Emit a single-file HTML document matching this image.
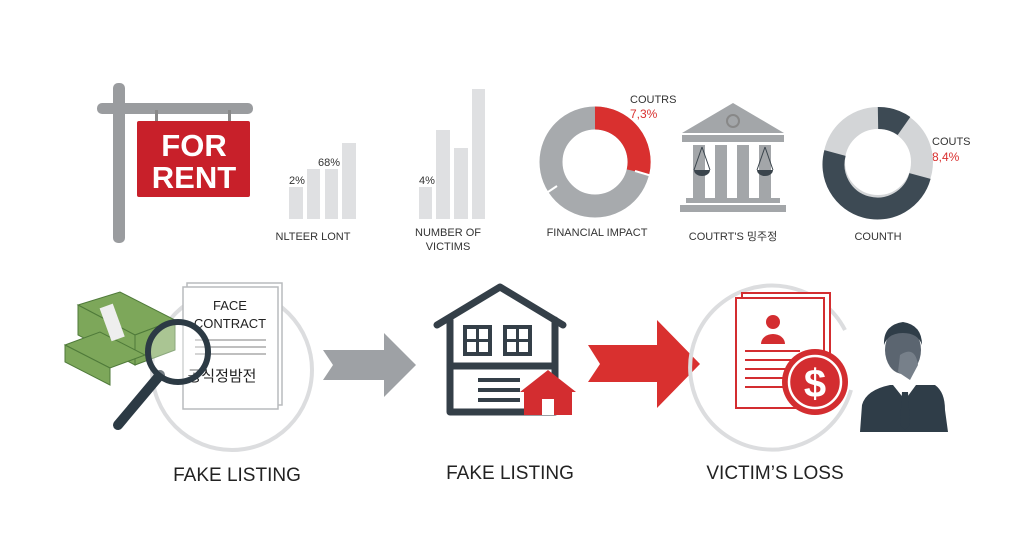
<!DOCTYPE html>
<html><head><meta charset="utf-8"><style>
html,body{margin:0;padding:0;background:#fff;}
svg{display:block}
text{font-family:"Liberation Sans","Noto Sans CJK KR",sans-serif;}
</style></head><body>
<svg width="1024" height="559" viewBox="0 0 1024 559" xmlns="http://www.w3.org/2000/svg">
<rect width="1024" height="559" fill="#fff"/>
<!-- FOR RENT sign -->
<rect x="113" y="83" width="12" height="160" rx="5" fill="#9a9c9f"/>
<rect x="97" y="103" width="156" height="11" rx="5" fill="#9a9c9f"/>
<rect x="155" y="110" width="3" height="14" fill="#888"/>
<rect x="228" y="110" width="3" height="14" fill="#888"/>
<rect x="137" y="121" width="113" height="76" rx="2" fill="#c8202a"/>
<text x="194" y="156" font-size="31" font-weight="bold" fill="#fff" text-anchor="middle">FOR</text>
<text x="194" y="188" font-size="31" font-weight="bold" fill="#fff" text-anchor="middle">RENT</text>
<!-- bar chart 1 -->
<g fill="#dfe0e2">
<rect x="289" y="187" width="14" height="32"/><rect x="307" y="169" width="13" height="50"/>
<rect x="325" y="169" width="13" height="50"/><rect x="342" y="143" width="14" height="76"/>
<rect x="419" y="187" width="13" height="32"/><rect x="436" y="130" width="14" height="89"/>
<rect x="454" y="148" width="14" height="71"/><rect x="472" y="89" width="13" height="130"/>
</g>
<g font-size="11" fill="#333">
<text x="289" y="184">2%</text><text x="318" y="166">68%</text><text x="419" y="184">4%</text>
<text x="313" y="240" text-anchor="middle">NLTEER LONT</text>
<text x="448" y="236" text-anchor="middle">NUMBER OF</text>
<text x="448" y="250" text-anchor="middle">VICTIMS</text>
<text x="597" y="236" text-anchor="middle">FINANCIAL IMPACT</text>
<text x="733" y="240" text-anchor="middle">COUTRT'S 밍주정</text>
<text x="878" y="240" text-anchor="middle">COUNTH</text>
<text x="630" y="103">COUTRS</text><text x="932" y="145">COUTS</text>
</g>
<text x="630" y="118" font-size="12" fill="#d9302f">7,3%</text>
<text x="932" y="161" font-size="12" fill="#d9302f">8,4%</text>
<!-- donut 1 -->
<g fill="none" stroke-width="23">
<circle cx="595" cy="162" r="44" stroke="#a7aaad"/>
<path d="M595 118 A44 44 0 0 1 638 172" stroke="#d9302f"/>
</g>
<path d="M635 171 L652 176 M557 186 L545 194" stroke="#fff" stroke-width="2"/>
<!-- courthouse -->
<g fill="#a3a6a9">
<polygon points="682,133 733,103 784,133"/>
<rect x="682" y="135" width="102" height="7"/>
<rect x="693" y="145" width="12" height="53"/><rect x="715" y="145" width="12" height="53"/>
<rect x="737" y="145" width="12" height="53"/><rect x="759" y="145" width="12" height="53"/>
<rect x="686" y="198" width="94" height="5"/><rect x="680" y="205" width="106" height="7"/>
</g>
<circle cx="733" cy="121" r="6" fill="none" stroke="#888" stroke-width="2"/>
<path d="M694 170 h16 a8 6 0 0 1 -16 0z M757 170 h16 a8 6 0 0 1 -16 0z" fill="#3a444c"/>
<path d="M702 147 L694 170 M702 147 L710 170 M765 147 L757 170 M765 147 L773 170" stroke="#3a444c"/>
<!-- donut 2 -->
<g fill="none" stroke-width="22">
<circle cx="878" cy="162" r="44" stroke="#d3d5d7"/>
<path d="M878 118 A44 44 0 0 1 904 126" stroke="#3d4a54"/>
<path d="M920 176 A44 44 0 0 1 835 153" stroke="#3d4a54"/>
</g>
<!-- bottom left -->
<circle cx="232" cy="370" r="80" fill="none" stroke="#dcdddf" stroke-width="4"/>
<rect x="187" y="283" width="95" height="122" fill="#fff" stroke="#b9bbbd" stroke-width="1.5"/>
<rect x="183" y="287" width="95" height="122" fill="#fff" stroke="#b9bbbd" stroke-width="1.5"/>
<text x="230" y="310" font-size="13" fill="#222" text-anchor="middle">FACE</text>
<text x="230" y="328" font-size="13" fill="#222" text-anchor="middle">CONTRACT</text>
<g stroke="#aaa" stroke-width="1.5"><line x1="195" y1="340" x2="266" y2="340"/><line x1="195" y1="347" x2="266" y2="347"/><line x1="195" y1="354" x2="266" y2="354"/></g>
<text x="222" y="381" font-size="15" fill="#222" text-anchor="middle">공식정밤전</text>
<g fill="#7da75a" stroke="#4f7a3a">
<polygon points="78,305 120,292 175,320 135,335"/>
<polygon points="78,305 135,335 135,365 78,335"/>
<polygon points="135,335 175,320 175,350 135,365"/>
<polygon points="65,345 100,332 145,355 110,368"/>
<polygon points="65,345 110,368 110,385 65,362"/>
</g>
<rect x="105" y="305" width="14" height="35" fill="#eee" transform="rotate(-20 112 322)"/>
<line x1="160" y1="375" x2="118" y2="425" stroke="#2c3a44" stroke-width="10" stroke-linecap="round"/>
<circle cx="178" cy="352" r="30" fill="rgba(255,255,255,0.35)" stroke="#2c3a44" stroke-width="6"/>
<!-- gray arrow -->
<polygon points="323,350 384,350 384,333 416,365 384,397 384,380 323,380 333,365" fill="#9ea1a5"/>
<!-- house -->
<g fill="none" stroke="#343f48" stroke-width="7" stroke-linejoin="round" stroke-linecap="round">
<polyline points="437,325 500,287 563,325"/>
<path d="M450 320 V412 H555 V320"/>
<line x1="450" y1="366" x2="555" y2="366"/>
</g>
<rect x="465" y="327" width="25" height="27" fill="none" stroke="#343f48" stroke-width="4"/>
<path d="M477.5 327v27M465 340.5h25" stroke="#343f48" stroke-width="3"/>
<rect x="505" y="327" width="25" height="27" fill="none" stroke="#343f48" stroke-width="4"/>
<path d="M517.5 327v27M505 340.5h25" stroke="#343f48" stroke-width="3"/>
<g stroke="#343f48" stroke-width="4"><line x1="478" y1="380" x2="520" y2="380"/><line x1="478" y1="390" x2="520" y2="390"/><line x1="478" y1="400" x2="520" y2="400"/></g>
<polygon points="520,392 548,370 576,392 572,392 572,415 524,415 524,392" fill="#d32d30"/>
<rect x="542" y="399" width="12" height="16" fill="#fff"/>
<!-- red arrow -->
<polygon points="588,345 657,345 657,320 700,364 657,408 657,382 588,382 600,364" fill="#d9302f"/>
<!-- victim -->
<path d="M845 330 A82 82 0 1 0 851 390" fill="none" stroke="#dcdddf" stroke-width="4"/>
<rect x="742" y="293" width="88" height="110" fill="#fff" stroke="#d32d30" stroke-width="2"/>
<rect x="736" y="298" width="88" height="110" fill="#fff" stroke="#d32d30" stroke-width="2"/>
<circle cx="773" cy="322" r="7" fill="#d32d30"/>
<path d="M761 344 a12 10 0 0 1 24 0z" fill="#d32d30"/>
<g stroke="#d32d30" stroke-width="2"><line x1="745" y1="351" x2="800" y2="351"/><line x1="745" y1="360" x2="795" y2="360"/><line x1="745" y1="369" x2="790" y2="369"/><line x1="745" y1="378" x2="788" y2="378"/><line x1="745" y1="387" x2="788" y2="387"/></g>
<circle cx="815" cy="382" r="33" fill="#d32d30"/>
<circle cx="815" cy="382" r="26" fill="none" stroke="#fff" stroke-width="2.5"/>
<text x="815" y="397" font-size="40" font-weight="bold" fill="#fff" text-anchor="middle">$</text>
<path d="M860 432 L862 405 Q866 390 890 385 L935 385 Q945 392 945 410 L948 432Z" fill="#2f3d48"/>
<path d="M893 385 L905 400 L916 385Z" fill="#fff"/>
<path d="M902 392 L908 392 L910 425 L905 430 L900 425Z" fill="#2f3d48"/>
<ellipse cx="903" cy="350" rx="18" ry="24" fill="#5b6570"/>
<path d="M884 345 Q883 325 903 322 Q922 325 922 345 Q918 333 903 333 Q888 333 884 345Z" fill="#2f3d48"/>
<path d="M900 355 Q915 345 918 365 L910 380 L898 372Z" fill="#77808a"/>
<g font-size="19" fill="#222" text-anchor="middle">
<text x="237" y="481">FAKE LISTING</text>
<text x="510" y="479">FAKE LISTING</text>
<text x="775" y="479">VICTIM’S LOSS</text>
</g>
</svg>
</body></html>
